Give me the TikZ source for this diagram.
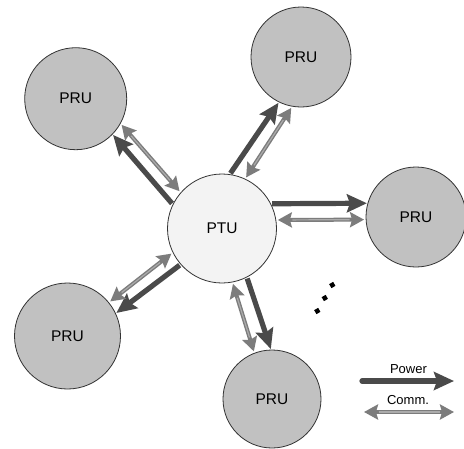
\documentclass[tikz,border=0pt]{standalone}
\usepackage{fontspec}
\setmainfont{Liberation Sans}
\usetikzlibrary{arrows.meta,calc}
\definecolor{powercol}{HTML}{4A4A4A}
\definecolor{commcol}{HTML}{7C7C7C}
\definecolor{commlight}{HTML}{ABABAB}
\definecolor{prufill}{HTML}{C1C1C1}
\definecolor{ptufill}{HTML}{F3F3F3}
\definecolor{edgecol}{HTML}{333333}
\begin{document}
\begin{tikzpicture}[x=1pt,y=-1pt,
  unit/.style={circle, draw=edgecol, line width=0.8pt, inner sep=0pt, outer sep=0pt,
    font=\fontsize{15.5}{18}\selectfont},
  pru/.style={unit, fill=prufill, minimum size=#1},
  ptunit/.style={unit, fill=ptufill, minimum size=109pt},
  power/.style={draw=powercol, line width=5.2pt,
    -{Stealth[length=20pt, width=18pt, inset=3pt]},
    shorten <=1.5pt, shorten >=1pt},
  comm/.style={draw=commcol, line width=4pt,
    {Stealth[length=14pt, width=15pt, inset=2pt]}-{Stealth[length=14pt, width=15pt, inset=2pt]},
    shorten <=2pt, shorten >=2pt,
    postaction={draw=commlight, line width=1.2pt, arrows=-, shorten <=16.5pt, shorten >=16.5pt}},
  legendtext/.style={font=\fontsize{13}{15}\selectfont, inner sep=0pt},
  dot/.style={rectangle, fill=black, inner sep=0pt, minimum size=4.6pt, rotate=30}
]
\useasboundingbox (0,0) rectangle (464,448);
\fill[white] (0,0) rectangle (464,448);

% units
\node[ptunit] (ptu) at (222,228.5) {PTU};
\node[pru=102pt] (pru1) at (75.7,98.7) {PRU};
\node[pru=100pt] (pru2) at (301,57) {PRU};
\node[pru=100pt] (pru3) at (416,217) {PRU};
\node[pru=106pt] (pru4) at (67.5,336) {PRU};
\node[pru=98pt]  (pru5) at (272,399) {PRU};

% power and communication links
\draw[power] (ptu.154) -- (pru1.-44);
\draw[comm]  (ptu.139) -- (pru1.-29);
\draw[power] (ptu.82)  -- (pru2.-116);
\draw[comm]  (ptu.65)  -- (pru2.-100);
\draw[power] (ptu.27)  -- (pru3.164);
\draw[comm]  (ptu.9)   -- (pru3.-177);
\draw[power] (ptu.221) -- (pru4.25);
\draw[comm]  (ptu.206) -- (pru4.39);
\draw[power] (ptu.-63) -- (pru5.91);
\draw[comm]  (ptu.-79) -- (pru5.111);

% ellipsis
\node[dot] (d1) at (332.3,285) {};
\node[dot] (d2) at (324.8,298) {};
\node[dot] (d3) at (317.3,311) {};

% legend
\coordinate (pwA) at (362,381);
\coordinate (pwB) at (454,381);
\coordinate (cmA) at (364,412);
\coordinate (cmB) at (454,412);
\draw[power, line cap=round, shorten <=0pt, shorten >=0pt] (pwA) -- (pwB);
\draw[comm, shorten <=0pt, shorten >=0pt,
  postaction={draw=commlight, line width=1.2pt, arrows=-, shorten <=14.5pt, shorten >=14.5pt}] (cmA) -- (cmB);
\node[legendtext] (lpw) at (408.5,369) {Power};
\node[legendtext] (lcm) at (408,400) {Comm.};
\end{tikzpicture}
\end{document}
